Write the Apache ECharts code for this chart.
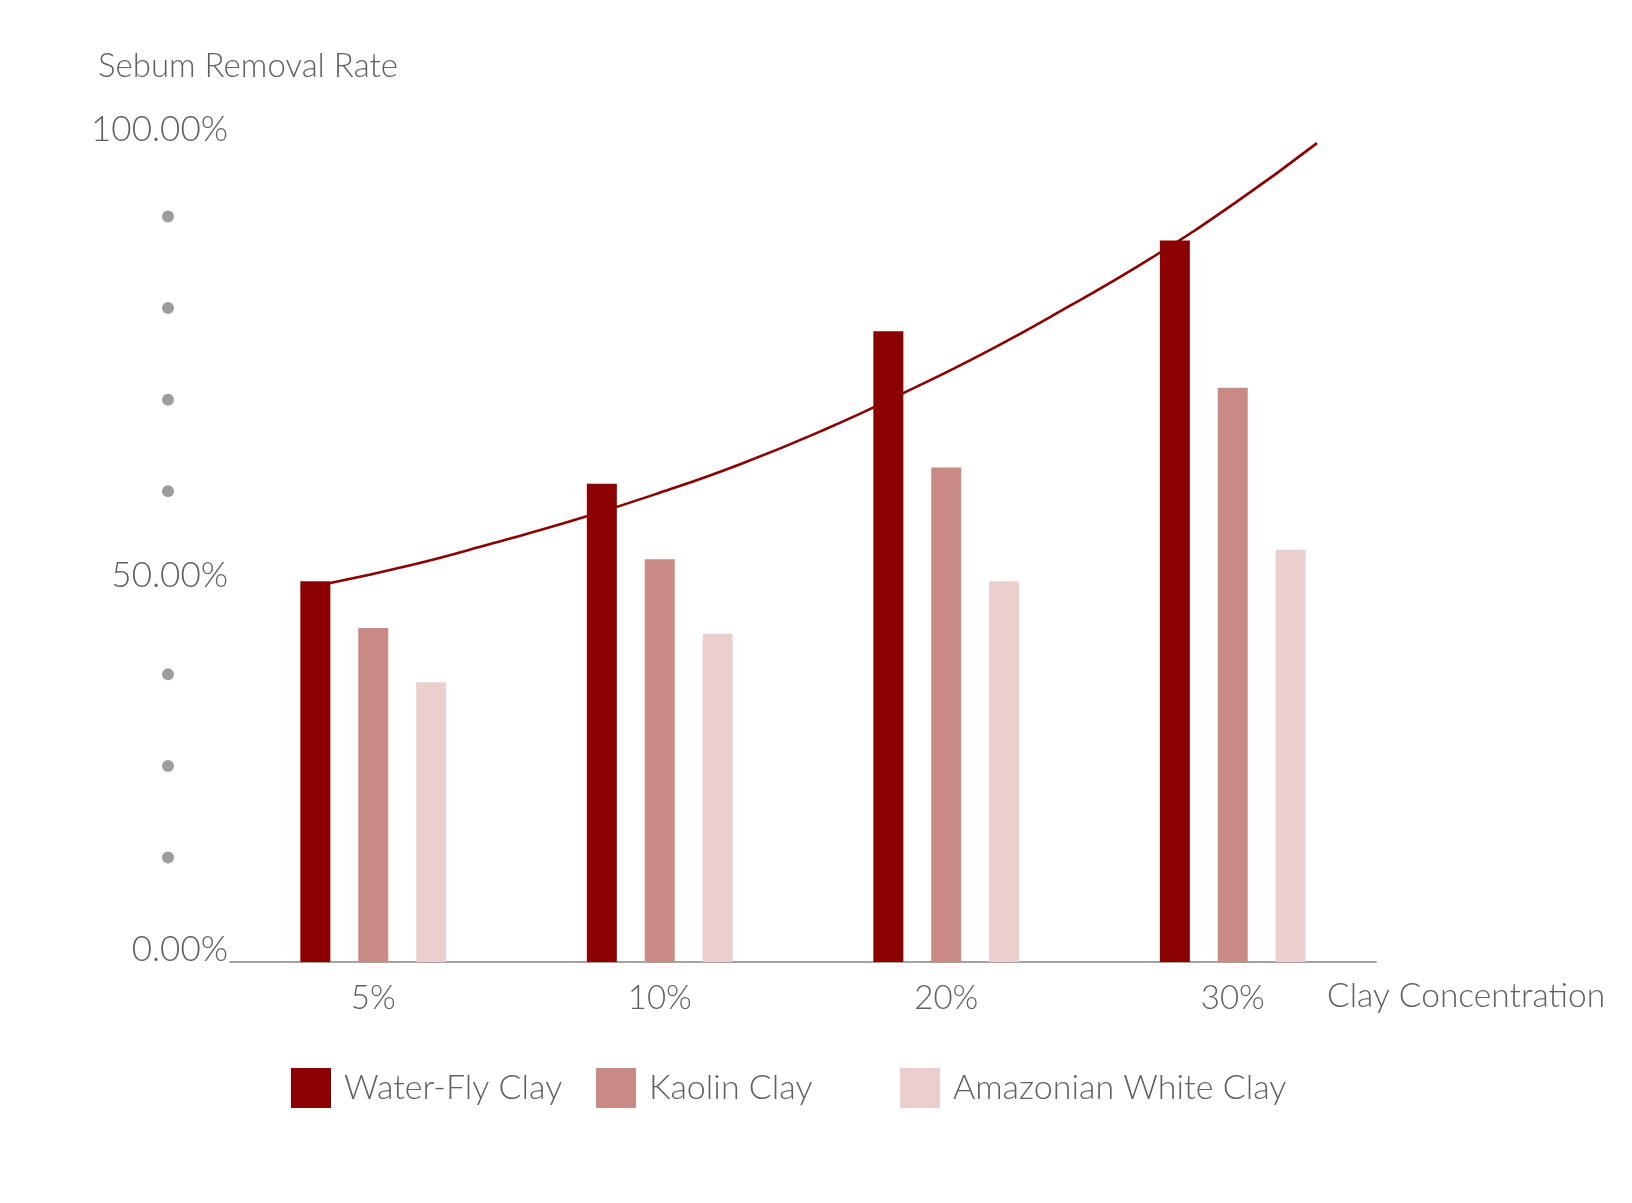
<!DOCTYPE html>
<html>
<head>
<meta charset="utf-8">
<script src="https://cdn.jsdelivr.net/npm/echarts@6/dist/echarts.min.js"></script>
<style>
  html, body { margin: 0; padding: 0; background: #fff; }
  #chart { width: 1632px; height: 1203px; }
</style>
</head>
<body>
<div id="chart"></div>
<script>
// ---- data ----
const categories = ['5%', '10%', '20%', '30%'];
const seriesNames = ['Water-Fly Clay', 'Kaolin Clay', 'Amazonian White Clay'];
const waterFly = [52.0, 65.3, 86.1, 98.5];
const kaolin = [45.6, 55.0, 67.5, 78.4];
const amazonian = [38.2, 44.8, 52.0, 56.3];
// trend curve, x in category-band units (0 = left edge of first band)
const trendX = [0.346, 0.633, 0.920, 1.208, 1.495, 1.783, 2.070, 2.357, 2.645, 2.932, 3.219, 3.507, 3.794];
const trendY = [51.7, 54.2, 57.2, 60.4, 64.0, 68.0, 72.6, 77.8, 83.4, 89.6, 96.2, 103.6, 111.8];
// y tick labels ('' = dot marker)
const yTickLabels = ['0.00%', '', '', '', '50.00%', '', '', '', '', '100.00%'];

const FONT = 'Lato, "Noto Sans", sans-serif';
const WEIGHT = 300;
const TXT = '#606060';
const colors = ['#8b0000', '#c98a85', '#ebcfcf'];

const chart = echarts.init(document.getElementById('chart'), null, { renderer: 'canvas' });

const trendData = trendX.map((x, i) => [x, trendY[i]]);

function legendAt(left, idx) {
  return {
    left: left, top: 1068,
    padding: 0,
    itemWidth: 40, itemHeight: 40,
    icon: 'rect',
    selectedMode: false,
    data: [seriesNames[idx]],
    textStyle: { fontFamily: FONT, fontWeight: WEIGHT, fontSize: 34, color: TXT, padding: [3, 0, 0, 8] }
  };
}

const option = {
  backgroundColor: '#ffffff',
  animation: false,
  textStyle: { fontFamily: FONT, fontWeight: WEIGHT },
  grid: { left: 230, right: 256, top: 138, bottom: 241, containLabel: false, outerBoundsMode: 'none' },
  legend: [legendAt(291, 0), legendAt(596, 1), legendAt(900, 2)],
  xAxis: [
    {
      type: 'category',
      data: categories,
      axisLine: { show: true, lineStyle: { color: '#a3a3a3', width: 2 } },
      axisTick: { show: false },
      splitLine: { show: false },
      axisLabel: { fontFamily: FONT, fontWeight: WEIGHT, fontSize: 33, color: TXT, margin: 20 },
      name: 'Clay Concentration',
      nameLocation: 'end',
      nameGap: -49,
      nameTextStyle: { fontFamily: FONT, fontWeight: WEIGHT, fontSize: 33.5, color: TXT, align: 'left', verticalAlign: 'top', lineHeight: 68 }
    },
    {
      type: 'value',
      min: 0, max: 4,
      show: false
    }
  ],
  yAxis: {
    type: 'value',
    min: 0, max: 112.5, interval: 12.5,
    axisLine: { show: false },
    axisTick: { show: false },
    splitLine: { show: false },
    axisLabel: {
      showMinLabel: true, showMaxLabel: true,
      margin: 2,
      fontFamily: FONT, fontWeight: WEIGHT, fontSize: 35, color: TXT,
      padding: [0, 0, 26, 0],
      formatter: function (value, index) {
        const t = yTickLabels[index];
        if (t === undefined) return '';
        if (t === '') return '{dot|}{sp|}';
        if (index === 0) return '{t0|' + t + '}';
        if (index === yTickLabels.length - 1) return '{t100|' + t + '}';
        return '{t50|' + t + '}';
      },
      rich: {
        t0: { fontFamily: FONT, fontWeight: WEIGHT, fontSize: 35, color: TXT, padding: [2, 0, 0, 0] },
        t50: { fontFamily: FONT, fontWeight: WEIGHT, fontSize: 35, color: TXT, padding: [0, 0, 14, 0] },
        t100: { fontFamily: FONT, fontWeight: WEIGHT, fontSize: 35, color: TXT, padding: [10, 0, 0, 0] },
        dot: { width: 12, height: 12, borderRadius: 6, backgroundColor: '#9d9d9d' },
        sp: { width: 54, height: 12 }
      }
    },
    name: 'Sebum Removal Rate',
    nameLocation: 'end',
    nameGap: 72,
    nameTextStyle: { fontFamily: FONT, fontWeight: WEIGHT, fontSize: 33, color: TXT, align: 'center', verticalAlign: 'middle', padding: [0, 0, 0, 36] }
  },
  series: [
    {
      name: seriesNames[0], type: 'bar', data: waterFly,
      barWidth: 30, barGap: '93%',
      itemStyle: { color: colors[0] }, z: 2
    },
    {
      name: seriesNames[1], type: 'bar', data: kaolin,
      barWidth: 30, barGap: '93%',
      itemStyle: { color: colors[1] }, z: 2
    },
    {
      name: seriesNames[2], type: 'bar', data: amazonian,
      barWidth: 30, barGap: '93%',
      itemStyle: { color: colors[2] }, z: 2
    },
    {
      name: 'trend', type: 'line',
      xAxisIndex: 1, yAxisIndex: 0,
      data: trendData,
      smooth: 0.5,
      showSymbol: false, symbol: 'none',
      clip: false,
      lineStyle: { color: '#8b0000', width: 2.6 },
      z: 5
    }
  ]
};

chart.setOption(option);
</script>
</body>
</html>
